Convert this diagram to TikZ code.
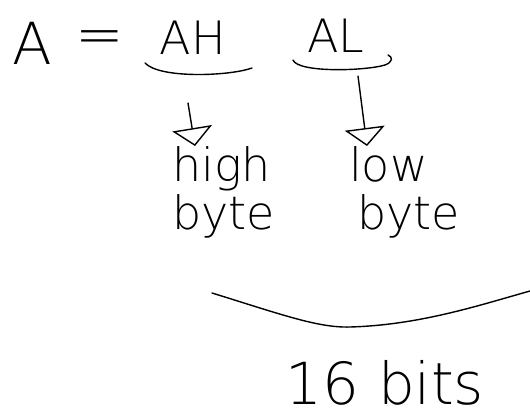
\documentclass[tikz,border=0pt]{standalone}
\usepackage{fontspec}
\newfontfamily\hw{DejaVu Sans ExtraLight}
\usetikzlibrary{arrows.meta}
\begin{document}
\begin{tikzpicture}[x=1pt,y=-1pt,
  hand/.style={line width=1.4pt,line cap=round,black},
  big/.style={font=\hw\fontsize{58}{60}\selectfont,inner sep=0pt},
  mid/.style={font=\hw\fontsize{46}{50}\selectfont,inner sep=0pt},
  word/.style={font=\hw\fontsize{46}{48}\selectfont,inner sep=0pt,align=left},
  tip/.style={-{Triangle[open,length=18pt,width=40pt]}}]
\useasboundingbox (0,0) rectangle (530,418);
\node[big] (A) at (32,43) {A};
\node[big] (eq) at (100,43) {=};
\node[mid] (AH) at (193,38) {AH};
\node[mid] (AL) at (336,36) {AL};
\node[word,anchor=north west] (high) at (172,146) {high\\byte};
\node[word,anchor=north west] (low) at (349,146) {low\\\hspace*{8pt}byte};
\node[font=\hw\fontsize{58}{60}\selectfont,inner sep=0pt] (bits) at (385,383) {16 bits};
\coordinate (h1) at (145,63);
\coordinate (h2) at (252,68);
\coordinate (l1) at (293,60);
\coordinate (l2) at (388,55);
\coordinate (hs) at (188,103);
\coordinate (ls) at (358,76);
\coordinate (b1) at (212,293);
\coordinate (b2) at (530,291);
\draw[hand] (h1) .. controls (160,79) and (230,76) .. (h2);
\draw[hand] (l1) .. controls (298,73) and (365,71) .. (385,65) .. controls (393,62) and (393,57) .. (l2);
\draw[hand,tip] (hs) -- (high.north west -| 195,141);
\draw[hand,tip] (ls) -- (low.north west -| 367,137);
\draw[hand] (b1) .. controls (280,314) and (318,328) .. (350,327) .. controls (420,325) and (480,305) .. (b2);
\end{tikzpicture}
\end{document}
